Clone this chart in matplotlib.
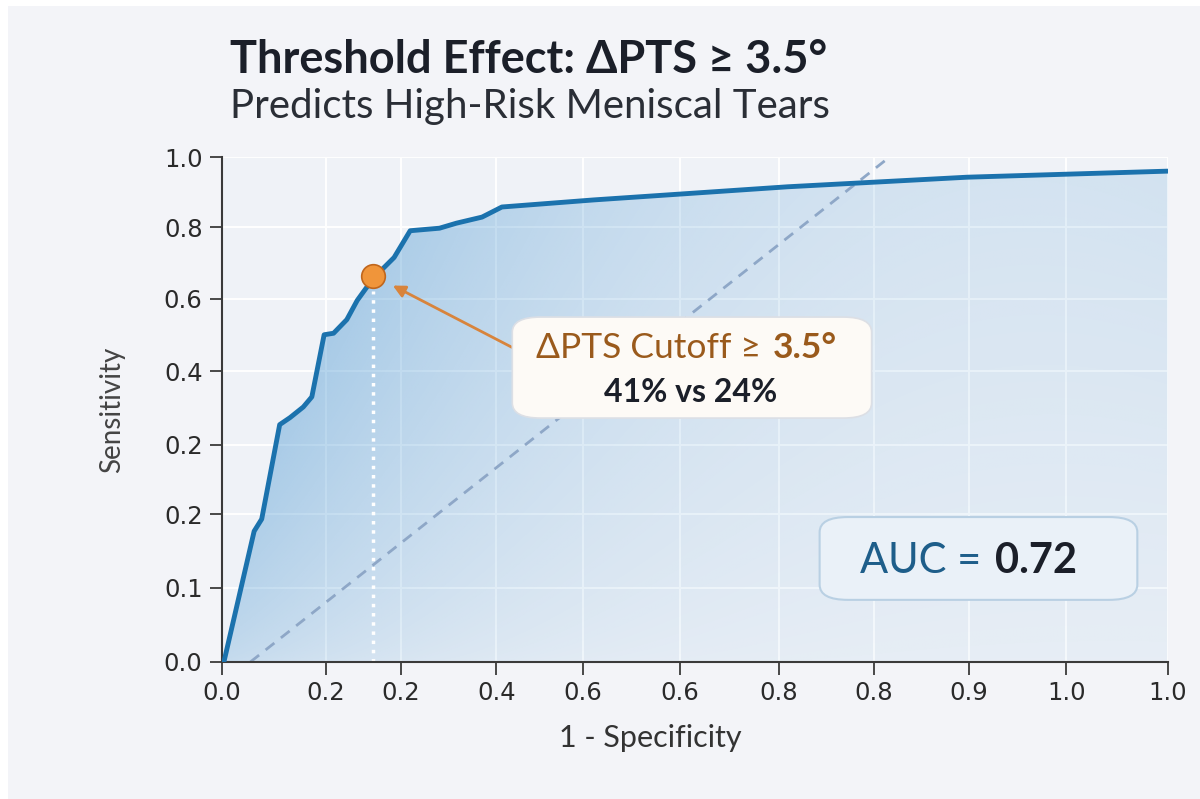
import numpy as np
import matplotlib.pyplot as plt
from matplotlib.colors import to_rgb
from matplotlib.patches import FancyBboxPatch, Polygon, Rectangle

#ROC curve (axis-fraction units, labels are uneven)
fpr = [0.002, 0.034, 0.042, 0.061, 0.072, 0.086, 0.095, 0.108, 0.118, 0.132, 0.143,
       0.160, 0.182, 0.199, 0.230, 0.248, 0.275, 0.296, 0.393, 0.598, 0.788, 1.0]
tpr = [0.0, 0.259, 0.283, 0.470, 0.484, 0.505, 0.525, 0.648, 0.651, 0.678, 0.716,
       0.760, 0.801, 0.854, 0.859, 0.869, 0.881, 0.901, 0.915, 0.941, 0.960, 0.972]
chance_x = [0.030, 0.706]
chance_y = [0.0, 1.0]
cut_x = 0.160
cut_y = 0.765

xtick_pos = [0.0, 0.110, 0.189, 0.290, 0.382, 0.484, 0.589, 0.689, 0.790, 0.893, 1.0]
xtick_lbl = ['0.0', '0.2', '0.2', '0.4', '0.6', '0.6', '0.8', '0.8', '0.9', '1.0', '1.0']
ytick_pos = [0.0, 0.147, 0.293, 0.430, 0.576, 0.719, 0.861, 1.0]
ytick_lbl = ['0.0', '0.1', '0.2', '0.2', '0.4', '0.6', '0.8', '1.0']

title = 'Threshold Effect: ΔPTS ≥ 3.5°'
subtitle = 'Predicts High-Risk Meniscal Tears'
cut_text = 'ΔPTS Cutoff ≥ '
cut_val = '3.5°'
cut_sub = '41% vs 24%'
auc_text = 'AUC = '
auc_val = '0.72'

#colours
bg = '#f3f4f8'
line_blue = '#1b72ad'
fill_blue = '#4a97d2'
orange = '#f0953a'
brown = '#9a5a1c'
dark = '#1b1f29'

fam = ['Lato', 'DejaVu Sans']
plt.rcParams['font.family'] = fam

fig = plt.figure(figsize=(12, 7.99), dpi=100, facecolor=bg)
fig.patches.append(Rectangle((0, 0), 0.007, 1, transform=fig.transFigure, facecolor='white', edgecolor='none', zorder=0))
fig.patches.append(Rectangle((0, 0.992), 1, 0.008, transform=fig.transFigure, facecolor='white', edgecolor='none', zorder=0))

ax = fig.add_axes([0.185, 0.1715, 0.788, 0.632])
ax.set_facecolor('#eff2f7')

#grid
for xp in xtick_pos[1:]:
    ax.axvline(xp, color='white', lw=1.4, zorder=0.5)
for yp in ytick_pos[1:]:
    ax.axhline(yp, color='white', lw=1.4, zorder=0.5)

#gradient fill under curve, strongest near the steep left part
ny, nx = 200, 300
gx, gy = np.meshgrid(np.linspace(0, 1, nx), np.linspace(0, 1, ny))
rgba = np.zeros((ny, nx, 4))
rgba[..., :3] = to_rgb(fill_blue)
rgba[..., 3] = 0.05 + 0.42*(1 - gx)**2*gy**0.7 + 0.13*gy*gx + 0.2*(1 - gx)**4
im = ax.imshow(rgba, extent=[0, 1, 0, 1], origin='lower', aspect='auto', zorder=1, interpolation='bilinear')
poly = Polygon(np.column_stack([fpr + [1.0, 0.0], tpr + [0.0, 0.0]]), closed=True,
               transform=ax.transData, facecolor='none', edgecolor='none')
ax.add_patch(poly)
im.set_clip_path(poly)

ax.plot(chance_x, chance_y, color='#8ea7c7', lw=2, ls=(0, (4, 3)), zorder=2)
ax.plot([cut_x, cut_x], [0, cut_y - 0.03], color='white', lw=2.5, ls=':', zorder=2)
ax.plot(fpr, tpr, color=line_blue, lw=3.5, solid_capstyle='round', solid_joinstyle='round', zorder=3)
ax.plot(cut_x, cut_y, 'o', ms=17, mfc=orange, mec='#c0661c', mew=1.2, zorder=5)

ax.annotate('', xy=(0.178, 0.748), xytext=(0.316, 0.614),
            arrowprops=dict(arrowstyle='-|>', color='#d8843c', lw=2, mutation_scale=18), zorder=4)

#cutoff box
box = FancyBboxPatch((0.307, 0.483), 0.380, 0.200, boxstyle='round,pad=0,rounding_size=0.03',
                     transform=ax.transData, facecolor='#fdfaf6', edgecolor='#dcdfe5', lw=1.2, zorder=4)
ax.add_patch(box)
ax.text(0.580, 0.602, cut_text, ha='right', va='baseline', fontsize=25.5, color=brown, zorder=6)
ax.text(0.582, 0.602, cut_val, ha='left', va='baseline', fontsize=25.5, color=brown, weight='bold', zorder=6)
ax.text(0.496, 0.515, cut_sub, ha='center', va='baseline', fontsize=23, color=dark, weight='bold', zorder=6)

#AUC box
box2 = FancyBboxPatch((0.632, 0.123), 0.336, 0.164, boxstyle='round,pad=0,rounding_size=0.03',
                      transform=ax.transData, facecolor='#eaf1f8', edgecolor='#b9d0e3', lw=1.5, zorder=4)
ax.add_patch(box2)
ax.text(0.814, 0.176, auc_text, ha='right', va='baseline', fontsize=30, color='#1e5e8a', zorder=6)
ax.text(0.817, 0.176, auc_val, ha='left', va='baseline', fontsize=30, color=dark, weight='bold', zorder=6)

ax.set_xlim(0, 1)
ax.set_ylim(0, 1)
ax.set_xticks(xtick_pos)
ax.set_xticklabels(xtick_lbl)
ax.set_yticks(ytick_pos)
ax.set_yticklabels(ytick_lbl)
ax.tick_params(axis='both', labelsize=17.5, length=9, width=1.3, color='#3a3a3a', labelcolor='#2a2a2a', pad=5)
for lbl in ax.get_xticklabels() + ax.get_yticklabels():
    lbl.set_family('DejaVu Sans')
for s in ['top', 'right']:
    ax.spines[s].set_visible(False)
for s in ['left', 'bottom']:
    ax.spines[s].set_color('#3a3a3a')
    ax.spines[s].set_linewidth(1.5)

fig.text(112/1200, 1 - 410/799, 'Sensitivity', rotation=90, fontsize=20, color='#444444', ha='center', va='center')
fig.text(650/1200, 1 - 738/799, '1 - Specificity', fontsize=22, color='#333333', ha='center', va='center')

fig.text(0.192, 1 - 73/799, title, fontsize=32.5, weight='bold', color=dark, va='baseline', ha='left')
fig.text(0.192, 1 - 118/799, subtitle, fontsize=29, color='#2a2e36', va='baseline', ha='left')

fig.savefig('out.png', dpi=100, facecolor=fig.get_facecolor())
